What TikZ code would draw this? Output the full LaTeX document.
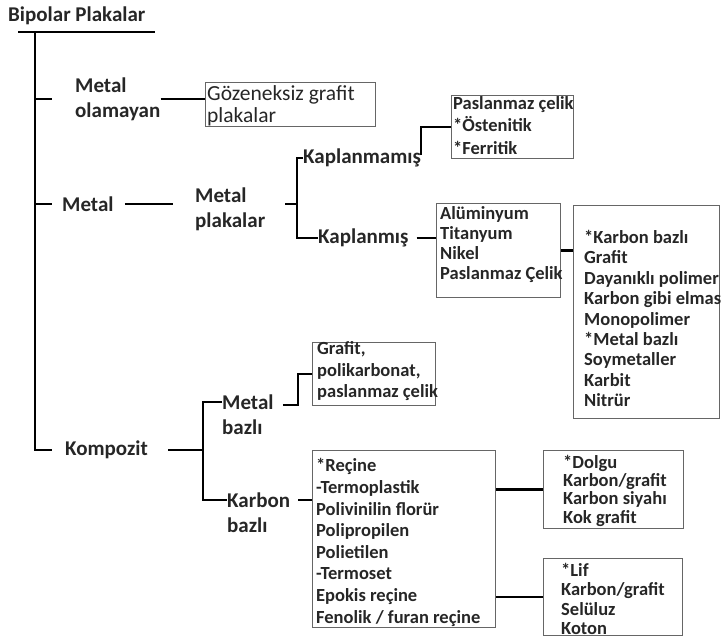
\documentclass[tikz,border=0pt]{standalone}
\usepackage{fontspec}
\setmainfont{Carlito}

\begin{document}
\begin{tikzpicture}[x=1pt, y=-1pt,
  lbl/.style={inner sep=0pt, anchor=west, align=left, text=black!85,
    font=\bfseries\fontsize{21}{25}\selectfont},
  listbox/.style={draw=black!60, line width=1.2pt, inner sep=0pt, anchor=north west},
  boxtext/.style={inner sep=0pt, anchor=west, align=left, text=black!85,
    font=\bfseries\fontsize{18.5}{#1}\selectfont},
  boxtext/.default=21,
  branch/.style={line width=2.6pt}]

\useasboundingbox (0,0) rectangle (721,638);

% Title and trunk
\node[lbl] (title) at (8,16) {Bipolar Plakalar};
\coordinate (top) at (35,32);
\draw[line width=2pt] ([xshift=-17pt]top) -- ([xshift=120pt]top);

\node[lbl] (nonmetal) at (75,99) {Metal\\olamayan};
\node[lbl] (metal) at (62,204) {Metal};
\node[lbl] (komp) at (65,450) {Kompozit};

\draw[branch] (top) |- ([xshift=-13pt]komp.west);
\foreach \n in {nonmetal,metal}
  \draw[branch] (top |- \n.west) -- ++(17,0);

% Metal olamayan
\node[listbox, minimum width=170pt, minimum height=44pt] (nmbox) at (205,82) {};
\node[boxtext, font=\fontsize{21.5}{21.5}\selectfont] (nmtext) at (207,106) {Gözeneksiz grafit\\plakalar};
\draw[branch] (nonmetal.east) -- (nonmetal.east -| nmbox.west);

% Metal
\node[lbl] (plates) at (195,209.5) {Metal\\plakalar};
\draw[branch, shorten <=11pt, shorten >=22pt] (metal.east) -- (metal.east -| plates.west);

\coordinate (pj) at (297,204);
\node[lbl] (uncoated) at (303,158) {Kaplanmamış};
\node[lbl] (coated) at (318,238) {Kaplanmış};
\draw[branch, shorten <=20pt] (pj -| plates.east) -- (pj);
\draw[branch] (uncoated.west) -| (pj) |- (coated.west);

\node[listbox, minimum width=122pt, minimum height=63pt] (ucbox) at (451,95) {};
\node[boxtext=22.5] (uctext) at (453,125.5) {Paslanmaz çelik\\*Östenitik\\*Ferritik};
\draw[branch, shorten <=3pt] (uncoated.east) |- (ucbox.west);

\node[listbox, minimum width=124pt, minimum height=94pt] (coatbox) at (436,203) {};
\node[boxtext=20] (coattext) at (440,245) {Alüminyum\\Titanyum\\Nikel\\Paslanmaz Çelik};
\draw[branch, shorten <=8pt] (coated.east) -- (coated.east -| coatbox.west);

\node[listbox, minimum width=146pt, minimum height=213pt] (coatlist) at (573,205) {};
\node[boxtext=20.4] (listtext) at (584,318.5) {*Karbon bazlı\\Grafit\\Dayanıklı polimer\\Karbon gibi elmas\\Monopolimer\\*Metal bazlı\\Soymetaller\\Karbit\\Nitrür};
\draw[branch] (coatbox.east) -- (coatbox.east -| coatlist.west);

% Kompozit
\coordinate (kj) at (203,450);
\node[lbl] (mb) at (222,414.5) {Metal\\bazlı};
\node[lbl] (cb) at (227,512.5) {Karbon\\bazlı};
\draw[branch, shorten <=20pt] (komp.east) -- (kj);
\draw[branch] ([yshift=12.5pt]mb.west) -| (kj) |- ([yshift=12.5pt]cb.west);

\node[listbox, minimum width=123pt, minimum height=63pt] (mbbox) at (312,342) {};
\node[boxtext=21.5] (mbtext) at (317,371.5) {Grafit,\\polikarbonat,\\paslanmaz çelik};
\coordinate (mbj) at (298,405);
\coordinate (mbs) at ([xshift=9pt]mb.east);
\draw[branch] (mbs |- mbj) -- (mbj) |- (mbbox.west);

\node[listbox, minimum width=183pt, minimum height=177pt] (cbbox) at (312,450) {};
\node[boxtext=21.6] (cbtext) at (316,542.5) {*Reçine\\-Termoplastik\\Polivinilin florür\\Polipropilen\\Polietilen\\-Termoset\\Epokis reçine\\Fenolik / furan reçine};
\coordinate (cbj) at ([yshift=12.5pt]cb.east);
\draw[branch, shorten <=8pt] (cbj) -- (cbj -| cbbox.west);

% Dolgu and Lif
\node[listbox, minimum width=140pt, minimum height=78pt] (fillbox) at (543,450) {};
\node[boxtext=18.3] (filltext) at (563,490.5) {*Dolgu\\Karbon/grafit\\Karbon siyahı\\Kok grafit};
\node[listbox, minimum width=139pt, minimum height=77pt] (fibrebox) at (543,558) {};
\node[boxtext=19.3] (fibretext) at (561,599) {*Lif\\Karbon/grafit\\Selüluz\\Koton};
\draw[branch] (cbbox.east |- fillbox.west) -- (fillbox.west);
\draw[branch] (cbbox.east |- fibrebox.west) -- (fibrebox.west);

\end{tikzpicture}
\end{document}
